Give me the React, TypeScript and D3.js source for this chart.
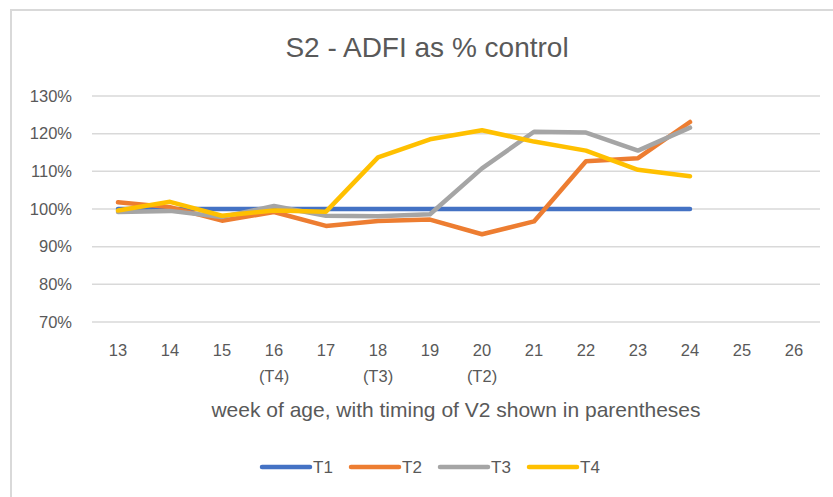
import React from 'react';
import * as d3 from 'd3';

const weeks = ['13', '14', '15', '16', '17', '18', '19', '20', '21', '22', '23', '24', '25', '26'];
const subLabels = ['', '', '', '(T4)', '', '(T3)', '', '(T2)', '', '', '', '', '', ''];
const yTicks = [0.7, 0.8, 0.9, 1.0, 1.1, 1.2, 1.3];

const t1 = [1.0, 1.0, 1.0, 1.0, 1.0, 1.0, 1.0, 1.0, 1.0, 1.0, 1.0, 1.0];
const t2 = [1.018, 1.005, 0.969, 0.992, 0.955, 0.968, 0.972, 0.933, 0.967, 1.127, 1.135, 1.231];
const t3 = [0.992, 0.995, 0.979, 1.008, 0.982, 0.981, 0.986, 1.108, 1.205, 1.203, 1.155, 1.216];
const t4 = [0.996, 1.019, 0.982, 0.996, 0.993, 1.137, 1.185, 1.209, 1.179, 1.155, 1.104, 1.087];

const seriesNames = ['T1', 'T2', 'T3', 'T4'];
const seriesData = [t1, t2, t3, t4];
const colors = ['#4472C4', '#ED7D31', '#A5A5A5', '#FFC000'];

const font = '"Liberation Sans", Arial, sans-serif';
const textColor = '#595959';

const App = () => {
  const width = 833;
  const height = 497;
  const plot = { left: 92, right: 820, top: 96, bottom: 322 };

  const x = d3.scaleBand().domain(weeks).range([plot.left, plot.right]);
  const y = d3.scaleLinear().domain([0.7, 1.3]).range([plot.bottom, plot.top]);
  const cx = (w: string) => (x(w) ?? 0) + x.bandwidth() / 2;

  const line = d3
    .line<number>()
    .x((_, i) => cx(weeks[i]))
    .y((d) => y(d));

  const fmt = d3.format('.0%');

  return (
    <svg
      width={width}
      height={height}
      style={{ position: 'absolute', left: 0, top: 0, background: '#fff' }}
      fontFamily={font}
    >
      <rect x={11} y={10} width={900} height={600} fill="#fff" stroke="#d9d9d9" strokeWidth={2} />

      <text x={427} y={57} textAnchor="middle" fontSize={28} fill={textColor}>
        S2 - ADFI as % control
      </text>

      {yTicks.map((t) => (
        <g key={t}>
          <line x1={plot.left} x2={plot.right} y1={y(t)} y2={y(t)} stroke="#d9d9d9" strokeWidth={1.5} />
          <text x={72} y={y(t)} dy="0.35em" textAnchor="end" fontSize={16.5} fill={textColor}>
            {fmt(t)}
          </text>
        </g>
      ))}

      {weeks.map((w, i) => (
        <g key={w}>
          <text x={cx(w)} y={356} textAnchor="middle" fontSize={16.5} fill={textColor}>
            {w}
          </text>
          {subLabels[i] && (
            <text x={cx(w)} y={382} textAnchor="middle" fontSize={16.5} fill={textColor}>
              {subLabels[i]}
            </text>
          )}
        </g>
      ))}

      <text x={456} y={417} textAnchor="middle" fontSize={21} fill={textColor}>
        week of age, with timing of V2 shown in parentheses
      </text>

      {seriesData.map((d, i) => (
        <path
          key={seriesNames[i]}
          d={line(d) ?? ''}
          fill="none"
          stroke={colors[i]}
          strokeWidth={4.5}
          strokeLinejoin="round"
          strokeLinecap="round"
        />
      ))}

      {seriesNames.map((n, i) => {
        const lx = 262 + i * 89;
        return (
          <g key={n}>
            <line x1={lx} x2={lx + 48} y1={467} y2={467} stroke={colors[i]} strokeWidth={4.5} strokeLinecap="round" />
            <text x={lx + 51} y={467} dy="0.35em" fontSize={17} fill={textColor}>
              {n}
            </text>
          </g>
        );
      })}
    </svg>
  );
};

export default App;
